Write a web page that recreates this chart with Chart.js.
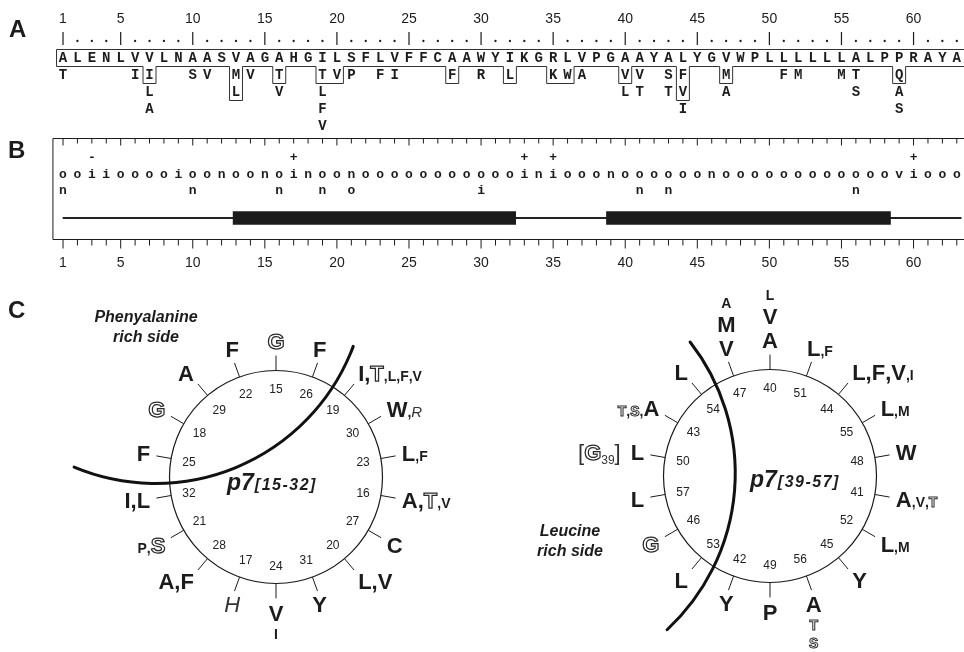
<!DOCTYPE html>
<html><head><meta charset="utf-8">
<script src="https://cdn.jsdelivr.net/npm/chart.js@4/dist/chart.umd.min.js"></script>
<style>
html,body{margin:0;padding:0;background:#fff;}
#wrap{position:relative;width:964px;height:652px;overflow:hidden;background:#fff;}
#wrap canvas{position:absolute;left:0;top:0;}
</style></head><body>
<div id="wrap">
<canvas id="seq" width="964" height="290"></canvas>
<canvas id="w1" width="964" height="652"></canvas>
<canvas id="w2" width="964" height="652"></canvas>
</div>
<script>
// ================= DATA =================
const sequence = "ALENLVVLNAASVAGAHGILSFLVFFCAAWYIKGRLVPGAAYALYGVWPLLLLLLALPPRAYA".split('');
const rulerLabels = [1,5,10,15,20,25,30,35,40,45,50,55,60];
const variantPositions = [1,6,7,10,11,13,14,16,19,20,21,23,24,28,30,32,35,36,37,40,41,43,44,47,51,52,55,56,59];
const variantResidues  = ['T','I','ILA','S','V','ML','V','TV','TLFV','V','P','F','I','F','R','L','K','W','A','VL','VT','ST','FVI','MA','F','M','M','TS','QAS'];
const boxedPositions = [7,13,16,19,20,28,32,35,36,40,44,47,59];
const boxedRows      = [1,2,1,1,1,1,1,1,1,1,2,1,1];
const chargePositions = [3,17,33,35,60];
const chargeSigns     = ['-','+','+','+','+'];
const residueClasses = ("ooiiooooioonoonoinoon" + "ooooooooooo" + "iniooon" + "oooooo" + "n" + "oooooooooooo" + "vi" + "ooo").split('');
const variantClassPositions = [1,10,16,19,21,30,41,43,56];
const variantClasses        = ['n','n','n','n','o','i','n','n','n'];
const tmStart = [12.8, 38.7];
const tmEnd   = [32.4, 58.4];
const loopSpan = [1, 63.3];

const wheel1Residues = [15,26,19,30,23,16,27,20,31,24,17,28,21,32,25,18,29,22];
const wheel1Major = ['G','F','IT','W','L','AT','C','LV','Y','V','H','AF','S','IL','F','G','A','F'];
const wheel1Minor = ['','','LFV','R','F','V','','','','I','','','P','','','','',''];
const wheel1Curve = [[13.64,189.8],[13.34,100.2],[1.53,142.5]];

const wheel2Residues = [40,51,44,55,48,41,52,45,56,49,42,53,46,57,50,43,54,47];
const wheel2Major = ['AV','L','LFV','L','W','A','L','Y','A','P','Y','L','G','L','L','A','L','VM'];
const wheel2Minor = ['L','F','I','M','','VT','M','','TS','','','','','','','TS','','A'];
const wheel2NoteAt = 50, wheel2NoteResidue = 'G', wheel2NoteNumber = 39;
const wheel2Curve = [[16.46,146.5],[12.93,33.5],[10.69,173.7]];

// ================= STYLE / LAYOUT =================
const SANS = '"Liberation Sans", Arial, sans-serif';
const MONO = '"Liberation Mono", "Courier New", monospace';
const INK = '#1c1c1c';

const seqPlugin = {
  id: 'seqPanels',
  afterDraw(chart) {
    const ctx = chart.ctx, xs = chart.scales.x;
    const X = v => xs.getPixelForValue(v);
    const n = sequence.length, W = chart.width;
    ctx.save();
    ctx.fillStyle = INK; ctx.strokeStyle = INK;
    ctx.textBaseline = 'alphabetic';
    // panel letters
    ctx.font = `bold 24px ${SANS}`; ctx.textAlign = 'left';
    ctx.fillText('A', 9, 37);
    ctx.fillText('B', 8, 158);
    // ---- Panel A ruler
    ctx.font = `14px ${SANS}`; ctx.textAlign = 'center';
    rulerLabels.forEach(p => ctx.fillText(String(p), X(p), 23));
    ctx.lineWidth = 1.2;
    for (let p = 1; p <= n; p++) {
      if (rulerLabels.includes(p)) {
        ctx.beginPath(); ctx.moveTo(X(p), 32); ctx.lineTo(X(p), 45); ctx.stroke();
      } else {
        ctx.beginPath(); ctx.arc(X(p), 41, 1.15, 0, Math.PI * 2); ctx.fill();
      }
    }
    // ---- sequence box (skyline outline)
    const TOP = 49.5, ROW0 = 66.5, STEP = 17;
    const depthAt = q => { const k = boxedPositions.indexOf(q); return k < 0 ? 0 : boxedRows[k]; };
    ctx.lineWidth = 1; ctx.strokeStyle = '#333';
    ctx.beginPath();
    ctx.moveTo(W + 2, TOP); ctx.lineTo(X(0.55), TOP); ctx.lineTo(X(0.55), ROW0);
    let p = 1;
    while (p <= n) {
      const d = depthAt(p);
      if (!d) { p++; continue; }
      let e = p; while (e + 1 <= n && depthAt(e + 1) === d) e++;
      ctx.lineTo(X(p - 0.45), ROW0); ctx.lineTo(X(p - 0.45), ROW0 + STEP * d);
      ctx.lineTo(X(e + 0.45), ROW0 + STEP * d); ctx.lineTo(X(e + 0.45), ROW0);
      p = e + 1;
    }
    ctx.lineTo(W + 2, ROW0);
    ctx.stroke();
    // sequence letters
    ctx.font = `bold 14px ${MONO}`; ctx.fillStyle = INK;
    sequence.forEach((c, i) => ctx.fillText(c, X(i + 1), 62));
    // variants
    variantPositions.forEach((pos, i) => {
      variantResidues[i].split('').forEach((c, k) => ctx.fillText(c, X(pos), 79 + STEP * k));
    });
    // ---- Panel B box
    const BT = 138.5, BB = 239.5;
    ctx.strokeStyle = INK; ctx.lineWidth = 1;
    ctx.beginPath();
    ctx.moveTo(W + 2, BT); ctx.lineTo(X(0.3), BT); ctx.lineTo(X(0.3), BB); ctx.lineTo(W + 2, BB);
    ctx.stroke();
    for (let q = 1; q <= n; q++) {
      const major = rulerLabels.includes(q);
      ctx.beginPath();
      ctx.moveTo(X(q), BT); ctx.lineTo(X(q), BT + (major ? 7 : 5));
      ctx.moveTo(X(q), BB); ctx.lineTo(X(q), BB + (major ? 9 : 6));
      ctx.stroke();
    }
    ctx.font = `bold 13px ${MONO}`;
    chargePositions.forEach((pos, i) => ctx.fillText(chargeSigns[i], X(pos), 161));
    residueClasses.forEach((c, i) => ctx.fillText(c, X(i + 1), 178));
    variantClassPositions.forEach((pos, i) => ctx.fillText(variantClasses[i], X(pos), 194));
    ctx.restore();
  }
};

new Chart(document.getElementById('seq'), {
  type: 'bar',
  data: {
    labels: ['TM'],
    datasets: [
      { label: 'transmembrane', data: tmStart.map((s, i) => ({ x: [s, tmEnd[i]], y: 'TM' })),
        backgroundColor: '#1b1b1b', barThickness: 13, grouped: false, order: 1 },
      { label: 'loop', data: [{ x: loopSpan, y: 'TM' }],
        backgroundColor: '#222', barThickness: 1.2, grouped: false, order: 2 }
    ]
  },
  options: {
    indexAxis: 'y', responsive: false, animation: false, devicePixelRatio: 1,
    layout: { padding: { left: 48.6, right: 0, top: 197, bottom: 11 } },
    plugins: { legend: { display: false }, tooltip: { enabled: false } },
    scales: {
      x: {
        type: 'linear', min: 0, max: 63.5, position: 'bottom',
        grid: { display: false, drawTicks: true, tickLength: 16 }, border: { display: false },
        ticks: { stepSize: 1, autoSkip: false, maxRotation: 0, padding: 0, color: INK,
                 font: { family: SANS, size: 14 },
                 callback: v => rulerLabels.includes(v) ? String(v) : '' },
        afterFit: s => { s.height = 40; }
      },
      y: { type: 'category', display: false }
    }
  },
  plugins: [seqPlugin]
});

// ================= Helical wheels =================
const BIG = 22, SMALL = 14, CAP = 0.716;
function mkSeg(ch, size) { return { text: ch, size, outline: 'GST'.includes(ch), italic: 'HRK'.includes(ch) }; }
function mkComma(size) { return { text: ',', size }; }
function segFont(s) {
  if (s.plain) return `${s.size}px ${SANS}`;
  if (s.italic) return `italic ${s.size >= 18 ? BIG : 15}px ${SANS}`;
  return `bold ${s.size}px ${SANS}`;
}
function segWidth(ctx, s) { if (s.gap) return s.gap; ctx.font = segFont(s); return ctx.measureText(s.text).width; }
function drawSeg(ctx, s, x, base) {
  if (s.gap) return;
  ctx.font = segFont(s);
  const y = base + (s.dy || 0);
  if (s.outline) { ctx.lineWidth = s.size >= 18 ? 1.25 : 1; ctx.strokeStyle = '#2a2a2a'; ctx.strokeText(s.text, x, y); }
  else { ctx.fillStyle = s.italic || s.plain ? '#333' : INK; ctx.fillText(s.text, x, y); }
}
function circleFrom3(a, b, c) {
  const d = 2 * (a.x * (b.y - c.y) + b.x * (c.y - a.y) + c.x * (a.y - b.y));
  const A = a.x * a.x + a.y * a.y, B = b.x * b.x + b.y * b.y, C = c.x * c.x + c.y * c.y;
  const ux = (A * (b.y - c.y) + B * (c.y - a.y) + C * (a.y - b.y)) / d;
  const uy = (A * (c.x - b.x) + B * (a.x - c.x) + C * (b.x - a.x)) / d;
  return { x: ux, y: uy, r: Math.hypot(a.x - ux, a.y - uy) };
}

function wheelPlugin(cfg) {
  return {
    id: 'wheel_' + cfg.id,
    afterDraw(chart) {
      const ctx = chart.ctx, s = chart.scales.r;
      const P = (i, v) => s.getPointPositionForValue(i, v);
      const N = cfg.residues.length;
      ctx.save();
      ctx.textBaseline = 'alphabetic';
      // spoke ticks
      ctx.strokeStyle = INK; ctx.lineWidth = 1;
      for (let i = 0; i < N; i++) {
        const a = P(i, 100), b = P(i, 114);
        ctx.beginPath(); ctx.moveTo(a.x, a.y); ctx.lineTo(b.x, b.y); ctx.stroke();
      }
      // residue numbers inside
      ctx.font = `12px ${SANS}`; ctx.fillStyle = '#222'; ctx.textAlign = 'center';
      for (let i = 0; i < N; i++) {
        const q = P(i, 83);
        ctx.fillText(String(cfg.residues[i]), q.x, q.y + 4.3);
      }
      // outer residue labels
      ctx.textAlign = 'left';
      const capBig = CAP * BIG;
      for (let i = 0; i < N; i++) {
        const th = s.getIndexAngle(i), sn = Math.sin(th), cs = Math.cos(th);
        const q = P(i, 120);
        const major = cfg.major[i].split(''), minor = cfg.minor[i].split('');
        if (cfg.stacked.includes(i)) {
          const lines = major.map(c => mkSeg(c, BIG)).concat(minor.map(c => mkSeg(c, SMALL)));
          let base = cs > 0 ? q.y : q.y + capBig;
          lines.forEach((seg, k) => {
            if (k) base += cs > 0 ? -24 : (seg.size === BIG ? 24 : 18);
            const w = segWidth(ctx, seg);
            drawSeg(ctx, seg, q.x - w / 2, base);
          });
          continue;
        }
        const segs = []; let mainIdx = 0;
        const leftSide = sn < -0.01;
        if (!leftSide) {
          major.forEach((c, j) => { if (j) segs.push(mkComma(BIG)); segs.push(mkSeg(c, BIG)); });
          minor.forEach(c => { segs.push(mkComma(SMALL)); segs.push(mkSeg(c, SMALL)); });
        } else {
          if (cfg.noteAt === cfg.residues[i]) {
            segs.push({ text: '[', size: BIG, plain: true });
            segs.push(mkSeg(cfg.noteResidue, BIG));
            segs.push({ text: String(cfg.noteNumber), size: 12, plain: true, dy: 4 });
            segs.push({ text: ']', size: BIG, plain: true });
            segs.push({ text: '', gap: 10 });
          }
          minor.forEach(c => { segs.push(mkSeg(c, SMALL)); segs.push(mkComma(SMALL)); });
          mainIdx = segs.length;
          major.forEach((c, j) => { if (j) segs.push(mkComma(BIG)); segs.push(mkSeg(c, BIG)); });
        }
        const widths = segs.map(g => segWidth(ctx, g));
        const total = widths.reduce((a, b) => a + b, 0);
        let x0;
        if (sn >= 0.5) x0 = q.x;
        else if (sn <= -0.5) x0 = q.x - total;
        else {
          let off = 0; for (let k = 0; k < mainIdx; k++) off += widths[k];
          x0 = q.x - off - widths[mainIdx] / 2;
        }
        const base = q.y - (capBig / 2) * cs + capBig / 2;
        let x = x0;
        segs.forEach((g, k) => { drawSeg(ctx, g, x, base); x += widths[k]; });
      }
      // boundary curve
      const pts = cfg.curve.map(c => P(c[0], c[1]));
      const circ = circleFrom3(pts[0], pts[1], pts[2]);
      const ang = p => Math.atan2(p.y - circ.y, p.x - circ.x);
      const a1 = ang(pts[0]), a2 = ang(pts[1]), a3 = ang(pts[2]);
      const norm = t => ((t - a1) % (2 * Math.PI) + 4 * Math.PI) % (2 * Math.PI);
      ctx.strokeStyle = '#111'; ctx.lineWidth = 3; ctx.lineCap = 'round';
      ctx.beginPath();
      ctx.arc(circ.x, circ.y, circ.r, a1, a3, !(norm(a2) < norm(a3)));
      ctx.stroke();
      // center title
      ctx.fillStyle = INK;
      ctx.font = `bold italic 23px ${SANS}`;
      const tx = s.xCenter + cfg.titleDx, ty = s.yCenter + cfg.titleDy;
      ctx.fillText('p7', tx, ty);
      const w7 = ctx.measureText('p7').width;
      ctx.font = `bold italic 16px ${SANS}`;
      ctx.letterSpacing = '1.5px';
      ctx.fillText(cfg.range, tx + w7 + 1, ty);
      ctx.letterSpacing = '0px';
      // side annotation
      ctx.font = `bold italic 16px ${SANS}`; ctx.textAlign = 'center';
      cfg.side.forEach((t, k) => ctx.fillText(t, s.xCenter + cfg.sideDx, s.yCenter + cfg.sideDy + 20 * k));
      if (cfg.panel) {
        ctx.font = `bold 24px ${SANS}`; ctx.textAlign = 'left';
        ctx.fillText(cfg.panel, 8, 318);
      }
      ctx.restore();
    }
  };
}

function makeWheel(cfg) {
  const H = 150, PX = 1.065;
  new Chart(document.getElementById(cfg.id), {
    type: 'radar',
    data: { labels: cfg.residues.map(String), datasets: [] },
    options: {
      responsive: false, animation: false, devicePixelRatio: 1,
      layout: { padding: { left: cfg.cx - H, top: cfg.cy - H, right: 964 - (cfg.cx + H), bottom: 652 - (cfg.cy + H) } },
      plugins: { legend: { display: false }, tooltip: { enabled: false } },
      scales: {
        r: {
          min: 0, max: H / PX, startAngle: 0,
          ticks: { display: false, stepSize: 100 },
          grid: { circular: true, lineWidth: 1.2,
                  color: c => (c.tick && c.tick.value === 100) ? '#1a1a1a' : 'rgba(0,0,0,0)' },
          angleLines: { display: false },
          pointLabels: { display: false }
        }
      }
    },
    plugins: [wheelPlugin(cfg)]
  });
}

makeWheel({
  id: 'w1', cx: 276, cy: 477,
  residues: wheel1Residues, major: wheel1Major, minor: wheel1Minor, curve: wheel1Curve,
  stacked: [9], range: '[15-32]', titleDx: -49, titleDy: 13,
  side: ['Phenyalanine', 'rich side'], sideDx: -130, sideDy: -155, panel: 'C'
});
makeWheel({
  id: 'w2', cx: 770, cy: 476,
  residues: wheel2Residues, major: wheel2Major, minor: wheel2Minor, curve: wheel2Curve,
  stacked: [0, 8, 17], range: '[39-57]', titleDx: -20, titleDy: 11,
  side: ['Leucine', 'rich side'], sideDx: -200, sideDy: 60,
  noteAt: wheel2NoteAt, noteResidue: wheel2NoteResidue, noteNumber: wheel2NoteNumber
});
</script>
</body></html>
